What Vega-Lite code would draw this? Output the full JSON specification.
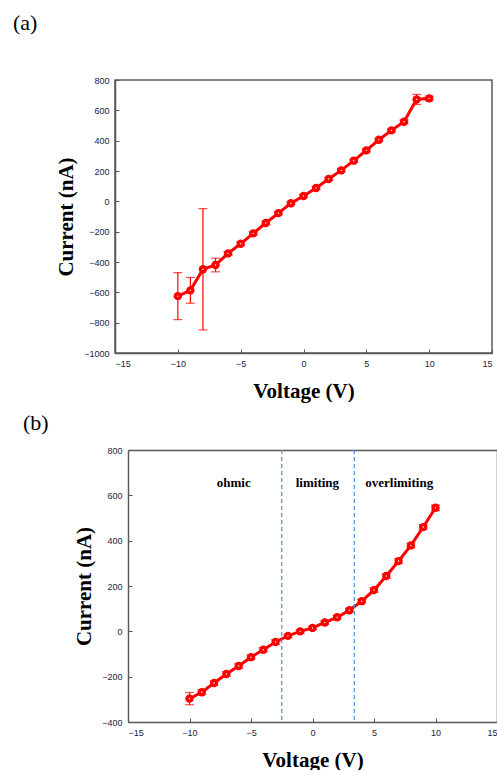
{
  "$schema": "https://vega.github.io/schema/vega-lite/v6.json",
  "background": "white",
  "padding": {"left": 12, "top": 11, "right": 0, "bottom": 0},
  "spacing": 10,
  "config": {
    "view": {"stroke": "#595959", "strokeWidth": 1.5},
    "axis": {
      "grid": false,
      "domainColor": "#595959",
      "domainWidth": 1.5,
      "tickColor": "#595959",
      "tickSize": -4,
      "labelFont": "Liberation Sans",
      "labelFontSize": 9,
      "labelColor": "#222244",
      "labelPadding": 10,
      "labelOverlap": false,
      "format": "d",
      "titleFont": "Liberation Serif",
      "titleFontSize": 21,
      "titleFontWeight": "bold",
      "titleColor": "#000000"
    },
    "title": {"font": "Liberation Serif", "fontSize": 22, "fontWeight": "normal", "anchor": "start", "frame": "group", "baseline": "bottom", "color": "#000000"}
  },
  "vconcat": [
    {
      "width": 377,
      "height": 273,
      "title": {"text": "(a)", "dx": -102, "offset": 41},
      "data": {"values": [
        {"v": -10, "c": -625, "e": 155},
        {"v": -9, "c": -587, "e": 85},
        {"v": -8, "c": -448, "e": 400},
        {"v": -7, "c": -420, "e": 45},
        {"v": -6, "c": -343, "e": 12},
        {"v": -5, "c": -280, "e": 12},
        {"v": -4, "c": -211, "e": 12},
        {"v": -3, "c": -143, "e": 12},
        {"v": -2, "c": -78, "e": 10},
        {"v": -1, "c": -13, "e": 10},
        {"v": 0, "c": 35, "e": 10},
        {"v": 1, "c": 88, "e": 10},
        {"v": 2, "c": 147, "e": 10},
        {"v": 3, "c": 204, "e": 10},
        {"v": 4, "c": 268, "e": 10},
        {"v": 5, "c": 336, "e": 10},
        {"v": 6, "c": 406, "e": 10},
        {"v": 7, "c": 468, "e": 10},
        {"v": 8, "c": 525, "e": 12},
        {"v": 9, "c": 672, "e": 33},
        {"v": 10, "c": 679, "e": 15}
      ]},
      "encoding": {
        "x": {"field": "v", "type": "quantitative", "title": "Voltage (V)", "scale": {"domain": [-15, 15], "nice": false}, "axis": {"values": [-15, -10, -5, 0, 5, 10, 15], "tickCount": 20, "titlePadding": 12, "labelOverlap": false}}
      },
      "layer": [
        {
          "mark": {"type": "errorbar", "color": "#ff0000", "ticks": {"size": 9}, "thickness": 1.2},
          "encoding": {
            "y": {"field": "c", "type": "quantitative", "title": "Current (nA)", "scale": {"domain": [-1000, 800], "nice": false}, "axis": {"values": [-1000, -800, -600, -400, -200, 0, 200, 400, 600, 800], "tickCount": 20, "titlePadding": 7, "labelOverlap": false}},
            "yError": {"field": "e"}
          }
        },
        {
          "mark": {"type": "line", "color": "#ff0000", "strokeWidth": 3},
          "encoding": {"y": {"field": "c", "type": "quantitative", "title": "Current (nA)"}}
        },
        {
          "mark": {"type": "point", "filled": true, "size": 70, "color": "#ff0000", "opacity": 1},
          "encoding": {"y": {"field": "c", "type": "quantitative", "title": "Current (nA)"}}
        },
        {
          "mark": {"type": "point", "filled": true, "size": 2, "color": "#ffffff", "opacity": 1},
          "encoding": {"y": {"field": "c", "type": "quantitative", "title": "Current (nA)"}}
        }
      ]
    },
    {
      "width": 382,
      "height": 272,
      "view": {"stroke": null},
      "title": {"text": "(b)", "dx": -92, "offset": 11},
      "resolve": {"axis": {"x": "independent", "y": "independent"}},
      "layer": [
        {
          "data": {"values": [
            {"v": -10, "c": -297, "e": 27},
            {"v": -9, "c": -269, "e": 10},
            {"v": -8, "c": -228, "e": 10},
            {"v": -7, "c": -188, "e": 10},
            {"v": -6, "c": -153, "e": 10},
            {"v": -5, "c": -114, "e": 10},
            {"v": -4, "c": -81, "e": 10},
            {"v": -3, "c": -47, "e": 10},
            {"v": -2, "c": -20, "e": 8},
            {"v": -1, "c": 0, "e": 8},
            {"v": 0, "c": 15, "e": 8},
            {"v": 1, "c": 39, "e": 8},
            {"v": 2, "c": 62, "e": 8},
            {"v": 3, "c": 93, "e": 8},
            {"v": 4, "c": 133, "e": 8},
            {"v": 5, "c": 182, "e": 10},
            {"v": 6, "c": 244, "e": 10},
            {"v": 7, "c": 310, "e": 10},
            {"v": 8, "c": 379, "e": 10},
            {"v": 9, "c": 460, "e": 10},
            {"v": 10, "c": 545, "e": 12}
          ]},
          "encoding": {
            "x": {"field": "v", "type": "quantitative", "title": "Voltage (V)", "scale": {"domain": [-15, 15], "nice": false, "range": [13, 382]}, "axis": {"values": [-15, -10, -5, 0, 5, 10, 15], "tickCount": 20, "titlePadding": 12, "labelOverlap": false}}
          },
          "layer": [
            {
              "mark": {"type": "errorbar", "color": "#ff0000", "ticks": {"size": 9}, "thickness": 1.2},
              "encoding": {
                "y": {"field": "c", "type": "quantitative", "title": "Current (nA)", "scale": {"domain": [-400, 800], "nice": false}, "axis": {"values": [-400, -200, 0, 200, 400, 600, 800], "tickCount": 20, "titlePadding": 7, "offset": -13, "labelOverlap": false}},
                "yError": {"field": "e"}
              }
            },
            {
              "mark": {"type": "line", "color": "#ff0000", "strokeWidth": 3},
              "encoding": {"y": {"field": "c", "type": "quantitative", "title": "Current (nA)"}}
            },
            {
              "mark": {"type": "point", "filled": true, "size": 70, "color": "#ff0000", "opacity": 1},
              "encoding": {"y": {"field": "c", "type": "quantitative", "title": "Current (nA)"}}
            },
            {
              "mark": {"type": "point", "filled": true, "size": 2, "color": "#ffffff", "opacity": 1},
              "encoding": {"y": {"field": "c", "type": "quantitative", "title": "Current (nA)"}}
            }
          ]
        },
        {
          "data": {"values": [{"v": -2.5}, {"v": 3.4}]},
          "mark": {"type": "rule", "color": "#4a8fd4", "strokeDash": [4, 3], "strokeWidth": 1.2},
          "encoding": {
            "x": {"field": "v", "type": "quantitative", "axis": {"orient": "top", "labels": false, "ticks": false, "title": null}}
          }
        },
        {
          "data": {"values": [
            {"v": -6.4, "c": 655, "t": "ohmic"},
            {"v": 0.4, "c": 655, "t": "limiting"},
            {"v": 7.05, "c": 655, "t": "overlimiting"}
          ]},
          "mark": {"type": "text", "font": "Liberation Serif", "fontSize": 13, "fontWeight": "bold", "color": "#000000"},
          "encoding": {
            "x": {"field": "v", "type": "quantitative", "axis": null},
            "y": {"field": "c", "type": "quantitative", "axis": {"orient": "right", "labels": false, "ticks": false, "title": null}},
            "text": {"field": "t"}
          }
        }
      ]
    }
  ]
}
